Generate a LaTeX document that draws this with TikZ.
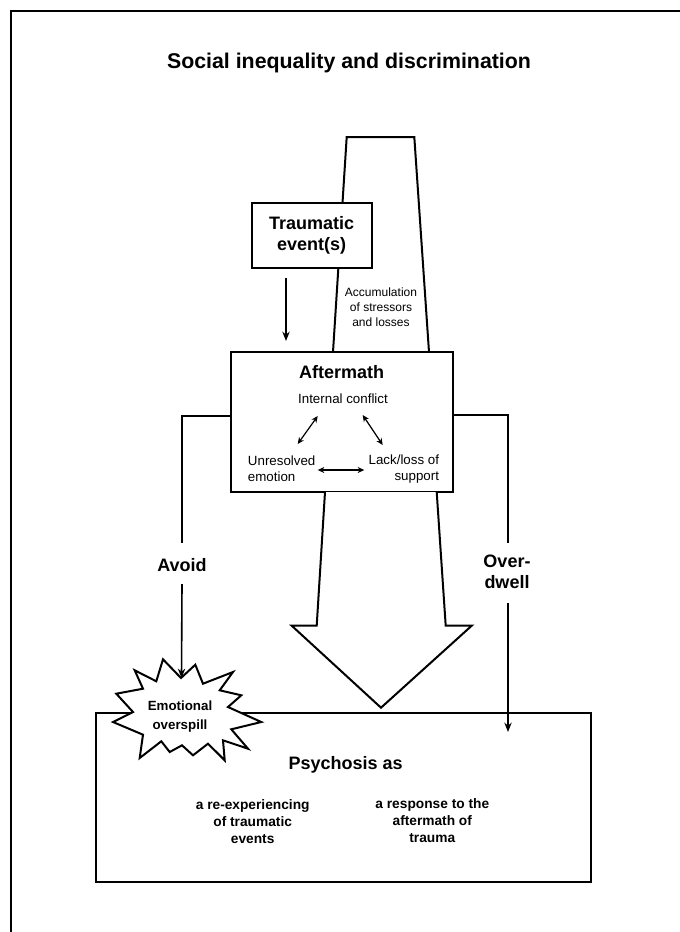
\documentclass[tikz,border=0pt]{standalone}
\usepackage{fontspec}
\setmainfont{Liberation Sans}
\usetikzlibrary{arrows.meta}
\begin{document}
\begin{tikzpicture}[x=0.75pt,y=-0.75pt,
  box/.style={draw, line width=1.5pt, fill=white, inner sep=0pt},
  conn/.style={line width=1.2pt},
  arr/.style={line width=1.2pt,-{Stealth[length=7pt,width=5.5pt]}},
  darr/.style={line width=0.9pt,{Stealth[length=5pt,width=4.5pt]}-{Stealth[length=5pt,width=4.5pt]}},
  bigbold/.style={font=\fontsize{13.5}{16}\selectfont\bfseries, align=center, inner sep=0pt},
  small/.style={font=\fontsize{10}{12}\selectfont, inner sep=0pt},
  tiny/.style={font=\fontsize{9}{11.25}\selectfont, align=center, inner sep=0pt},
  subbold/.style={font=\fontsize{10.3}{12.75}\selectfont\bfseries, align=center, inner sep=0pt},
  shapeline/.style={line width=1.5pt, line join=miter}]
\useasboundingbox (0,0) rectangle (680,932);
% outer frame
\draw[line width=1.6pt] (11,960) -- (11,11) -- (700,11);
% title
\node[font=\fontsize{16}{19}\selectfont\bfseries, inner sep=0pt] (title) at (349,63) {Social inequality and discrimination};
% accumulation trapezoid
\draw[shapeline] (333,352) -- (346.7,137) -- (414.3,137) -- (429,352);
\node[tiny] (acc) at (381,307.7) {Accumulation\\of stressors\\and losses};
% traumatic event box
\node[box, bigbold, minimum width=90pt, minimum height=49.2pt] (trauma) at (311.7,235.5) {Traumatic\\event(s)};
% aftermath box
\node[box, minimum width=166.3pt, minimum height=104.5pt] (aft) at (341.85,422) {};
\node[bigbold] (afttitle) at (341.7,371.7) {Aftermath};
\node[small] (ic) at (343,399) {Internal conflict};
\node[small, align=left, anchor=west] (ue) at (247.7,468.7) {Unresolved\\emotion};
\node[small, align=right, anchor=east] (ls) at (439.3,468.7) {Lack/loss of\\support};
\coordinate (ic1) at (317.7,416);
\coordinate (ue1) at (297.7,444);
\coordinate (ic2) at (362.7,415);
\coordinate (ls1) at (382.7,445);
\coordinate (ue2) at (317.7,470);
\coordinate (ls2) at (364.3,470);
\draw[darr] (ic1) -- (ue1);
\draw[darr] (ic2) -- (ls1);
\draw[darr] (ue2) -- (ls2);
% traumatic arrow
\coordinate (ta1) at (286,278);
\coordinate (ta2) at (286,341);
\draw[arr] (ta1) -- (ta2);
% big arrow
\draw[shapeline, fill=white] (325,492) -- (316.7,625.7) -- (291.7,625.7) -- (381,707.7) -- (471.7,625.7) -- (445.7,625.7) -- (436.7,492);
% psychosis box
\node[box, minimum width=371pt, minimum height=126.3pt] (psy) at (343.35,797.5) {};
\node[bigbold] (psytitle) at (345.7,765) {Psychosis as};
\node[subbold] (reexp) at (252.7,822) {a re-experiencing\\of traumatic\\events};
\node[subbold] (resp) at (432.3,820.7) {a response to the\\aftermath of\\trauma};
% starburst
\draw[shapeline, fill=white] (163,659.3) -- (181,678) -- (195.3,664.7) -- (203,683.7)
  -- (233,672) -- (219.7,690.3) -- (241.3,695.3) -- (228,707) -- (261.3,722)
  -- (231.3,729.3) -- (248,748.7) -- (223,740.3) -- (224.7,760.3) -- (208,743.7)
  -- (193,755.3) -- (182,745.3) -- (169.7,752) -- (161.3,741.3) -- (139.7,758)
  -- (143,734.7) -- (113,722) -- (133,712) -- (116.3,693.7) -- (143,688.7)
  -- (134.7,670.3) -- (156.3,681.3) -- cycle;
\node[font=\fontsize{10}{14}\selectfont\bfseries, align=center, inner sep=0pt] (emo) at (180,716.7) {Emotional\\overspill};
% avoid path
\coordinate (av0) at (231,416);
\coordinate (av1) at (182,416);
\coordinate (av2) at (182,543);
\node[bigbold] (avoid) at (182,565) {Avoid};
\coordinate (av3) at (182,584);
\coordinate (av4) at (181.5,678);
\draw[conn] (av0) -- (av1) -- (av2);
\draw[arr] (av3) -- (av4);
% over-dwell path
\coordinate (ov0) at (453.5,415);
\coordinate (ov1) at (508,415);
\coordinate (ov2) at (508,543);
\node[bigbold] (over) at (507,572) {Over-\\dwell};
\coordinate (ov3) at (508,603);
\coordinate (ov4) at (508,732);
\draw[conn] (ov0) -- (ov1) -- (ov2);
\draw[arr] (ov3) -- (ov4);
\end{tikzpicture}
\end{document}
